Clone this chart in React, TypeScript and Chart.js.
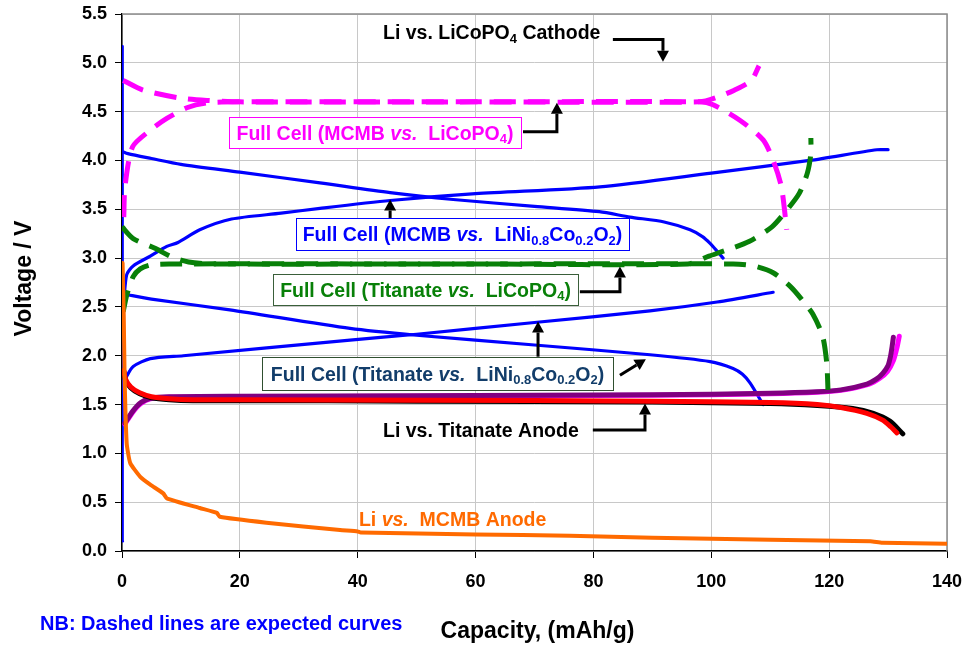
import React, { useEffect, useRef } from 'react';
import { Chart, registerables } from 'chart.js';

Chart.register(...registerables);

type Pt = [number, number];

// ---------- data (capacity mAh/g, voltage V) ----------
const X_MIN = 0, X_MAX = 140, X_STEP = 20;
const Y_MIN = 0, Y_MAX = 5.5, Y_STEP = 0.5;

const liMcmbAnode: Pt[] = [
  [0.1, 2.95], [0.3, 2.4], [0.45, 1.75], [0.8, 1.1], [1.4, 0.9], [3.1, 0.76], [4.8, 0.68],
  [7.0, 0.59], [7.6, 0.54], [13.2, 0.44], [16.1, 0.39], [16.6, 0.35], [24.5, 0.29],
  [37, 0.215], [40, 0.2], [40.5, 0.19], [60, 0.17], [76, 0.155], [90, 0.135], [110, 0.115],
  [127, 0.1], [129, 0.085], [140, 0.075],
];

const tiLcpDischargeExp: Pt[] = [
  [0, 3.32], [1.9, 3.2], [5.6, 3.1], [8.5, 3.01], [11.3, 2.96], [15, 2.94], [60, 2.94],
  [103.7, 2.94], [107.2, 2.92], [110.5, 2.85], [113.4, 2.71], [115.3, 2.58], [117.2, 2.43],
  [118.9, 2.2], [119.6, 1.92], [119.8, 1.65],
];
const tiLcpChargeExp: Pt[] = [
  [0.2, 2.45], [0.8, 2.62], [1.9, 2.81], [3.1, 2.89], [4.8, 2.93], [8, 2.94], [60, 2.94],
  [96, 2.94], [99.6, 3.02], [102.5, 3.08], [106.4, 3.17], [110.3, 3.32], [112.8, 3.49],
  [114.9, 3.66], [116.3, 3.87], [116.9, 4.07], [116.9, 4.23],
];

const mcmbLcpDischargeExp: Pt[] = [
  [0.2, 4.82], [3.6, 4.72], [9.8, 4.64], [14.4, 4.615], [20, 4.6], [60, 4.6], [98, 4.6],
  [100.3, 4.57], [104.9, 4.41], [108.8, 4.21], [110.5, 4.0], [111.9, 3.73], [112.8, 3.29],
];
const mcmbLcpChargeExp: Pt[] = [
  [0.3, 3.42], [0.5, 3.73], [1.8, 4.14], [4.8, 4.31], [7.6, 4.43], [11, 4.54], [14.4, 4.59],
  [20, 4.6], [60, 4.6], [98, 4.6], [101.1, 4.65], [103.9, 4.72], [106.8, 4.82], [108.1, 4.97],
];

const liTiDischargeRed: Pt[] = [
  [0.3, 1.85], [0.6, 1.76], [1.5, 1.68], [3, 1.62], [5, 1.58], [8, 1.56], [12, 1.55],
  [20, 1.55], [50, 1.545], [90, 1.535], [110, 1.52], [118, 1.5], [122, 1.47], [126.4, 1.41],
  [129.1, 1.34], [130.5, 1.27], [131.5, 1.21],
];
const liTiDischargeBlack: Pt[] = [
  [0.3, 1.84], [0.6, 1.75], [1.5, 1.67], [3, 1.61], [5, 1.57], [8, 1.55], [12, 1.54],
  [20, 1.54], [50, 1.535], [90, 1.525], [110, 1.51], [118, 1.49], [124, 1.46], [127.5, 1.41],
  [130.3, 1.33], [132.5, 1.2],
];
const liTiChargePurple: Pt[] = [
  [0.5, 1.31], [1.8, 1.43], [3.2, 1.52], [4.8, 1.565], [8, 1.58], [20, 1.585], [50, 1.59],
  [90, 1.6], [110, 1.615], [117.9, 1.63], [122, 1.65], [126.4, 1.71], [128, 1.76],
  [129.1, 1.82], [130, 1.9], [130.4, 1.99], [130.7, 2.1], [130.9, 2.19],
];
const liTiChargeMagenta: Pt[] = [
  [0.5, 1.3], [1.8, 1.42], [3.2, 1.51], [4.8, 1.56], [8, 1.575], [20, 1.58], [50, 1.585],
  [90, 1.595], [110, 1.61], [118, 1.625], [122, 1.645], [126.8, 1.71], [128.6, 1.77],
  [129.9, 1.84], [130.9, 1.95], [131.5, 2.08], [131.9, 2.2],
];

const mcmbNcoDischarge: Pt[] = [
  [0.1, 4.09], [1, 4.07], [5, 4.02], [10, 3.96], [20, 3.88], [33.6, 3.77], [45.5, 3.67],
  [56.2, 3.6], [70, 3.53], [81, 3.475], [86.2, 3.42], [92, 3.37], [96.4, 3.29],
  [98.5, 3.22], [99.8, 3.15], [101, 3.07], [102, 3.0],
];
const mcmbNcoCharge: Pt[] = [
  [0.3, 2.55], [0.8, 2.83], [1.9, 2.92], [4.8, 3.02], [7.6, 3.12], [9.5, 3.16], [13.2, 3.29],
  [18.6, 3.4], [27, 3.46], [33.6, 3.51], [45.5, 3.59], [60, 3.66], [81.1, 3.73],
  [100, 3.87], [116.7, 4.0], [128.1, 4.11], [130, 4.11],
];
const tiNcoDischarge: Pt[] = [
  [0.5, 2.63], [5, 2.58], [18.3, 2.47], [38.7, 2.28], [50, 2.21], [70, 2.11], [89.6, 2.01],
  [99.8, 1.94], [103.7, 1.87], [105.3, 1.81], [106.6, 1.72], [108.8, 1.5],
];
const tiNcoCharge: Pt[] = [
  [0.5, 1.74], [0.8, 1.79], [1.9, 1.89], [4.8, 1.97], [10.4, 2.0], [38.7, 2.16], [50, 2.22],
  [70, 2.34], [89.6, 2.46], [101, 2.55], [110.5, 2.65],
];
const liLcpCathodeTrace: Pt[] = [[0.15, 0.1], [0.1, 5.17]];

// ---------- styling & annotation layout ----------
const FAM = 'Arial, "Liberation Sans", Helvetica, sans-serif';
const BLUE = '#0000ff';
const MAGENTA = '#ff00ff';
const GREEN = '#088008';
const ORANGE = '#ff6a00';
const NAVY = '#123d6a';
const LABEL_SIZE = 19.5;

type Seg = [string, '' | 'i' | 's'];

const LBL_CATHODE: Seg[] = [['Li vs. LiCoPO', ''], ['4', 's'], [' Cathode', '']];
const LBL_MCMB_LCP: Seg[] = [['Full Cell (MCMB ', ''], ['vs.', 'i'], ['  LiCoPO', ''], ['4', 's'], [')', '']];
const LBL_MCMB_NCO: Seg[] = [['Full Cell (MCMB ', ''], ['vs.', 'i'], ['  LiNi', ''], ['0.8', 's'], ['Co', ''], ['0.2', 's'], ['O', ''], ['2', 's'], [')', '']];
const LBL_TI_LCP: Seg[] = [['Full Cell (Titanate ', ''], ['vs.', 'i'], ['  LiCoPO', ''], ['4', 's'], [')', '']];
const LBL_TI_NCO: Seg[] = [['Full Cell (Titanate ', ''], ['vs.', 'i'], ['  LiNi', ''], ['0.8', 's'], ['Co', ''], ['0.2', 's'], ['O', ''], ['2', 's'], [')', '']];
const LBL_TI_ANODE: Seg[] = [['Li vs. Titanate Anode', '']];
const LBL_MCMB_ANODE: Seg[] = [['Li ', ''], ['vs.', 'i'], ['  MCMB Anode', '']];

const BOXES = [
  { x0: 18.16, x1: 67.71, y0: 4.445, y1: 4.127, segs: LBL_MCMB_LCP, color: MAGENTA, border: MAGENTA },
  { x0: 29.53, x1: 86.03, y0: 3.411, y1: 3.083, segs: LBL_MCMB_NCO, color: BLUE, border: BLUE },
  { x0: 25.57, x1: 77.38, y0: 2.837, y1: 2.519, segs: LBL_TI_LCP, color: GREEN, border: '#3a5f3a' },
  { x0: 23.76, x1: 83.32, y0: 1.99, y1: 1.649, segs: LBL_TI_NCO, color: NAVY, border: '#2f4f2f' },
];
const FREE_LABELS = [
  { x: 44.29, y: 5.318, segs: LBL_CATHODE, color: '#000' },
  { x: 44.29, y: 1.239, segs: LBL_TI_ANODE, color: '#000' },
  { x: 40.2, y: 0.328, segs: LBL_MCMB_ANODE, color: ORANGE },
];
const ARROWS: Pt[][] = [
  [[83.3, 5.24], [91.8, 5.24], [91.8, 5.01]],
  [[68.05, 4.294], [73.8, 4.294], [73.8, 4.59]],
  [[45.5, 3.411], [45.5, 3.6]],
  [[77.7, 2.656], [84.5, 2.656], [84.5, 2.915]],
  [[70.6, 1.99], [70.6, 2.35]],
  [[84.5, 1.8], [88.9, 1.965]],
  [[79.9, 1.239], [88.75, 1.239], [88.75, 1.51]],
];

function drawRich(ctx: CanvasRenderingContext2D, segs: Seg[], x: number, yc: number, size: number, color: string, align: 'left' | 'center') {
  const fonts = {
    '': `bold ${size}px ${FAM}`,
    i: `italic bold ${size}px ${FAM}`,
    s: `bold ${Math.round(size * 0.66)}px ${FAM}`,
  } as const;
  let w = 0;
  for (const [t, st] of segs) {
    ctx.font = fonts[st];
    w += ctx.measureText(t).width;
  }
  let cx = align === 'center' ? x - w / 2 : x;
  const base = yc + size * 0.36;
  ctx.fillStyle = color;
  ctx.textAlign = 'left';
  ctx.textBaseline = 'alphabetic';
  for (const [t, st] of segs) {
    ctx.font = fonts[st];
    ctx.fillText(t, cx, st === 's' ? base + size * 0.2 : base);
    cx += ctx.measureText(t).width;
  }
}

function drawArrow(ctx: CanvasRenderingContext2D, pts: Pt[]) {
  const head = 11, hw = 6;
  const n = pts.length;
  const [ex, ey] = pts[n - 1];
  const [sx, sy] = pts[n - 2];
  const len = Math.hypot(ex - sx, ey - sy);
  const ux = (ex - sx) / len, uy = (ey - sy) / len;
  const bx = ex - ux * head, by = ey - uy * head;
  ctx.beginPath();
  ctx.moveTo(pts[0][0], pts[0][1]);
  for (let i = 1; i < n - 1; i++) ctx.lineTo(pts[i][0], pts[i][1]);
  ctx.lineTo(bx, by);
  ctx.lineWidth = 3;
  ctx.strokeStyle = '#000';
  ctx.lineJoin = 'miter';
  ctx.lineCap = 'butt';
  ctx.setLineDash([]);
  ctx.stroke();
  ctx.beginPath();
  ctx.moveTo(ex, ey);
  ctx.lineTo(bx - uy * hw, by + ux * hw);
  ctx.lineTo(bx + uy * hw, by - ux * hw);
  ctx.closePath();
  ctx.fillStyle = '#000';
  ctx.fill();
}

const annotationPlugin = {
  id: 'annotations',
  beforeDatasetsDraw(chart: any) {
    const { ctx, chartArea: a } = chart;
    ctx.save();
    ctx.strokeStyle = '#8c8c8c';
    ctx.lineWidth = 1.5;
    ctx.beginPath();
    ctx.moveTo(a.left, a.top);
    ctx.lineTo(a.right, a.top);
    ctx.lineTo(a.right, a.bottom);
    ctx.stroke();
    ctx.restore();
  },
  afterDatasetsDraw(chart: any) {
    const { ctx, scales } = chart;
    const px = (v: number) => scales.x.getPixelForValue(v);
    const py = (v: number) => scales.y.getPixelForValue(v);
    ctx.save();
    for (const b of BOXES) {
      const x0 = Math.round(px(b.x0)), x1 = Math.round(px(b.x1));
      const y0 = Math.round(py(b.y0)), y1 = Math.round(py(b.y1));
      ctx.fillStyle = '#fff';
      ctx.fillRect(x0, y0, x1 - x0, y1 - y0);
      ctx.strokeStyle = b.border;
      ctx.lineWidth = 1;
      ctx.strokeRect(x0 + 0.5, y0 + 0.5, x1 - x0, y1 - y0);
      drawRich(ctx, b.segs, (x0 + x1) / 2, (y0 + y1) / 2, LABEL_SIZE, b.color, 'center');
    }
    for (const l of FREE_LABELS) drawRich(ctx, l.segs, px(l.x), py(l.y), LABEL_SIZE, l.color, 'left');
    for (const a of ARROWS) drawArrow(ctx, a.map(([x, y]) => [px(x), py(y)] as Pt));
    ctx.restore();
  },
  afterDraw(chart: any) {
    const { ctx, chartArea: a } = chart;
    ctx.save();
    ctx.fillStyle = '#000';
    ctx.font = `bold 23px ${FAM}`;
    ctx.textAlign = 'center';
    ctx.textBaseline = 'middle';
    ctx.fillText('Capacity, (mAh/g)', (a.left + a.right) / 2 + 3, 632);
    ctx.save();
    ctx.translate(25, (a.top + a.bottom) / 2 - 4);
    ctx.rotate(-Math.PI / 2);
    ctx.fillText('Voltage / V', 0, 0);
    ctx.restore();
    ctx.fillStyle = BLUE;
    ctx.font = `bold 20px ${FAM}`;
    ctx.textAlign = 'left';
    ctx.fillText('NB: Dashed lines are expected curves', 40, 624);
    ctx.restore();
  },
};

function series(data: Pt[], color: string, width: number, dashed = false, tension = 0.25) {
  return {
    data: data.map(([x, y]) => ({ x, y })),
    borderColor: color,
    backgroundColor: color,
    borderWidth: width,
    borderDash: dashed ? [22, 12] : [],
    borderCapStyle: dashed ? 'butt' : 'round',
    borderJoinStyle: 'round',
    showLine: true,
    pointRadius: 0,
    tension,
    fill: false,
  };
}

export default function App() {
  const ref = useRef<HTMLCanvasElement>(null);
  useEffect(() => {
    if (!ref.current) return;
    const tickFont = { family: FAM, size: 18, weight: 'bold' as const };
    const chart = new Chart(ref.current, {
      type: 'scatter',
      data: {
        datasets: [
          series(liMcmbAnode, ORANGE, 4, false, 0.15),
          series(tiLcpDischargeExp, GREEN, 5, true),
          series(tiLcpChargeExp, GREEN, 5, true),
          series(mcmbLcpDischargeExp, MAGENTA, 5, true),
          series(mcmbLcpChargeExp, MAGENTA, 5, true),
          series(liTiDischargeRed, '#ff0000', 5),
          series(liTiDischargeBlack, '#000000', 5),
          series(liTiChargePurple, '#800080', 5),
          series(liTiChargeMagenta, '#ff00ff', 5),
          series(mcmbNcoDischarge, BLUE, 3.2),
          series(mcmbNcoCharge, BLUE, 3.2),
          series(tiNcoDischarge, BLUE, 3.2),
          series(tiNcoCharge, BLUE, 3.2),
          series(liLcpCathodeTrace, BLUE, 2.5, false, 0),
        ] as any,
      },
      options: {
        animation: false,
        responsive: false,
        maintainAspectRatio: false,
        layout: { padding: { top: 14, right: 20, left: 0, bottom: 0 } },
        plugins: { legend: { display: false }, tooltip: { enabled: false } },
        scales: {
          x: {
            type: 'linear',
            min: X_MIN,
            max: X_MAX,
            ticks: { stepSize: X_STEP, font: tickFont, color: '#000', padding: 13 },
            grid: { color: '#c8c8c8', tickColor: '#000', tickLength: 7, lineWidth: 1 },
            border: { color: '#000', width: 1.5 },
            afterFit: (s: any) => { s.height = 94; s.paddingLeft = 0; s.paddingRight = 0; },
          },
          y: {
            type: 'linear',
            min: Y_MIN,
            max: Y_MAX,
            ticks: {
              stepSize: Y_STEP,
              font: tickFont,
              color: '#000',
              padding: 8,
              callback: (v: any) => Number(v).toFixed(1),
            },
            grid: { color: '#c8c8c8', tickColor: '#000', tickLength: 7, lineWidth: 1 },
            border: { color: '#000', width: 1.5 },
            afterFit: (s: any) => { s.width = 122; s.paddingTop = 0; s.paddingBottom = 0; },
          },
        },
      } as any,
      plugins: [annotationPlugin],
    });
    return () => chart.destroy();
  }, []);
  return (
    <div style={{ position: 'absolute', left: 0, top: 0, width: 967, height: 645, background: '#fff' }}>
      <canvas ref={ref} width={967} height={645} style={{ display: 'block' }} />
    </div>
  );
}
